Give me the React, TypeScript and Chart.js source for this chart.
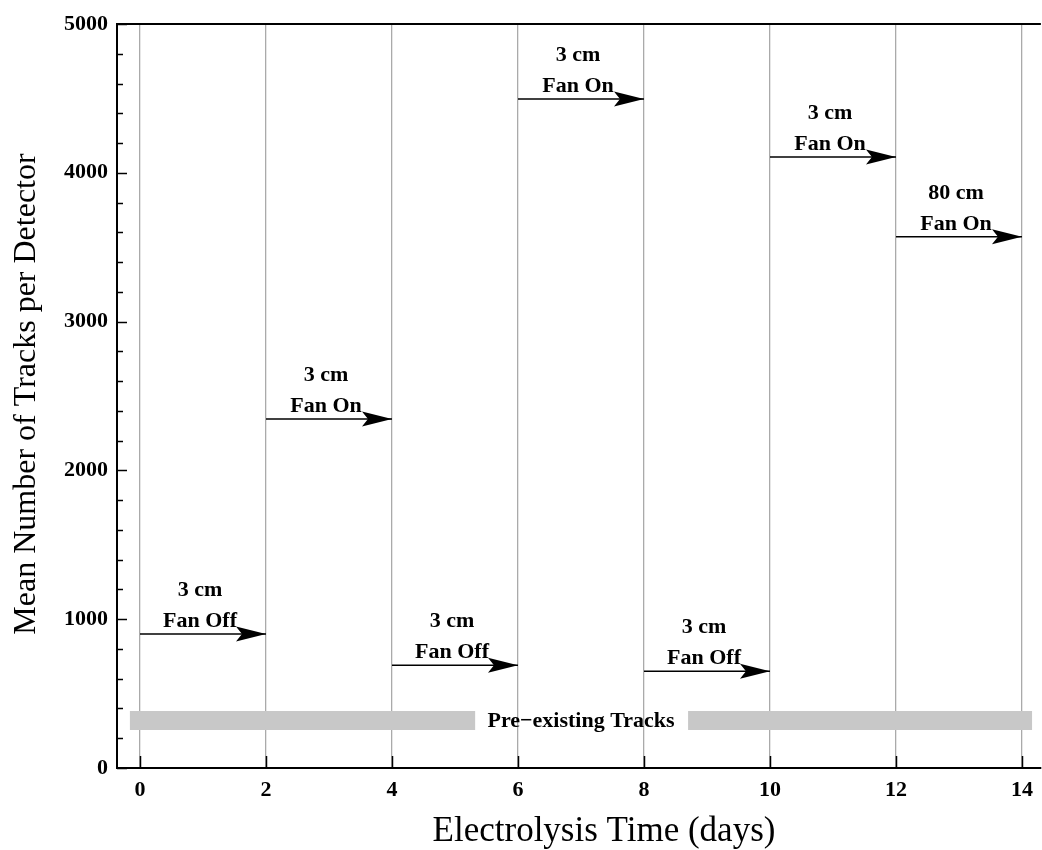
import React, { useEffect, useRef } from 'react';
import { Chart, registerables } from 'chart.js';

Chart.register(...registerables);

// ---- data ----
const xTickValues = [0, 2, 4, 6, 8, 10, 12, 14];
const arrowStart = [0, 2, 4, 6, 8, 10, 12];
const arrowEnd = [2, 4, 6, 8, 10, 12, 14];
const arrowTracks = [900, 2345, 690, 4496, 650, 4107, 3570];
const labelDistance = ['3 cm', '3 cm', '3 cm', '3 cm', '3 cm', '3 cm', '80 cm'];
const labelFan = ['Fan Off', 'Fan On', 'Fan Off', 'Fan On', 'Fan Off', 'Fan On', 'Fan On'];
const preexistingLevel = 320;
const bandStart = [-0.16, 8.7];
const bandEnd = [5.32, 14.16];
const bandLabel = 'Pre\u2212existing Tracks';
const bandLabelX = 7.0;
const xTitle = 'Electrolysis Time (days)';
const yTitle = 'Mean Number of Tracks per Detector';

const SERIF = '"Liberation Serif", "Times New Roman", serif';

export default function App() {
  const ref = useRef<HTMLCanvasElement>(null);

  useEffect(() => {
    document.body.style.margin = '0';
    const canvas = ref.current;
    if (!canvas) return;

    const datasets: any[] = [];
    bandStart.forEach((s, i) => {
      datasets.push({
        type: 'line',
        data: [
          { x: s, y: preexistingLevel },
          { x: bandEnd[i], y: preexistingLevel },
        ],
        borderColor: '#c8c8c8',
        borderWidth: 19,
        borderCapStyle: 'butt',
        pointRadius: 0,
        showLine: true,
      });
    });
    arrowStart.forEach((s, i) => {
      datasets.push({
        type: 'line',
        data: [
          { x: s, y: arrowTracks[i] },
          { x: arrowEnd[i], y: arrowTracks[i] },
        ],
        borderColor: '#000',
        borderWidth: 1.5,
        borderCapStyle: 'butt',
        pointRadius: 0,
        showLine: true,
      });
    });

    const decor = {
      id: 'decor',
      afterDatasetsDraw(chart: any) {
        const { ctx, chartArea, scales } = chart;
        const xs = scales.x;
        const ys = scales.y;
        ctx.save();
        // arrowheads + labels
        arrowStart.forEach((s, i) => {
          const x0 = xs.getPixelForValue(s);
          const x1 = xs.getPixelForValue(arrowEnd[i]);
          const y = ys.getPixelForValue(arrowTracks[i]);
          ctx.fillStyle = '#000';
          ctx.beginPath();
          ctx.moveTo(x1, y);
          ctx.lineTo(x1 - 30, y - 7.5);
          ctx.lineTo(x1 - 24, y);
          ctx.lineTo(x1 - 30, y + 7.5);
          ctx.closePath();
          ctx.fill();
          const cx = (x0 + x1) / 2 - 3;
          ctx.font = `bold 22px ${SERIF}`;
          ctx.textAlign = 'center';
          ctx.textBaseline = 'alphabetic';
          ctx.fillText(labelFan[i], cx, y - 7);
          ctx.fillText(labelDistance[i], cx, y - 38);
        });
        // band label
        ctx.font = `bold 22px ${SERIF}`;
        ctx.textAlign = 'center';
        ctx.textBaseline = 'middle';
        ctx.fillStyle = '#000';
        ctx.fillText(bandLabel, xs.getPixelForValue(bandLabelX), ys.getPixelForValue(preexistingLevel) + 1);

        // x tick marks (inside, bottom)
        ctx.strokeStyle = '#000';
        ctx.lineWidth = 1.5;
        xTickValues.forEach((v) => {
          const px = Math.round(xs.getPixelForValue(v)) + 0.5;
          ctx.beginPath();
          ctx.moveTo(px, chartArea.bottom);
          ctx.lineTo(px, chartArea.bottom - 12);
          ctx.stroke();
        });
        // y tick marks (inside, left)
        ys.ticks.forEach((t: any) => {
          const py = Math.round(ys.getPixelForValue(t.value)) + 0.5;
          const len = t.value % 1000 === 0 ? 10 : 6;
          ctx.beginPath();
          ctx.moveTo(chartArea.left, py);
          ctx.lineTo(chartArea.left + len, py);
          ctx.stroke();
        });
        // top border
        ctx.lineWidth = 2;
        ctx.beginPath();
        ctx.moveTo(chartArea.left, chartArea.top);
        ctx.lineTo(chartArea.right, chartArea.top);
        ctx.stroke();

        // axis titles
        ctx.fillStyle = '#000';
        ctx.font = `35px ${SERIF}`;
        ctx.textAlign = 'center';
        ctx.textBaseline = 'middle';
        ctx.fillText(xTitle, 604, 832);
        ctx.save();
        ctx.translate(27, 394);
        ctx.rotate(-Math.PI / 2);
        ctx.font = `32px ${SERIF}`;
        ctx.fillText(yTitle, 0, 0);
        ctx.restore();
        ctx.restore();
      },
    };

    const chart = new Chart(canvas, {
      type: 'scatter',
      data: { datasets },
      options: {
        animation: false,
        responsive: false,
        maintainAspectRatio: false,
        layout: { padding: { top: 24, right: 1, left: 0, bottom: 0 } },
        plugins: { legend: { display: false }, tooltip: { enabled: false } },
        scales: {
          x: {
            type: 'linear',
            min: -0.365,
            max: 14.3,
            afterFit: (s: any) => {
              s.height = 82;
            },
            afterBuildTicks: (s: any) => {
              s.ticks = xTickValues.map((v) => ({ value: v }));
            },
            ticks: {
              color: '#000',
              font: { family: SERIF, size: 22, weight: 'bold' },
              padding: 9,
              maxRotation: 0,
              autoSkip: false,
            },
            grid: {
              color: '#aaaaaa',
              lineWidth: 1.3,
              drawTicks: false,
            },
            border: { display: true, color: '#000', width: 2 },
          },
          y: {
            type: 'linear',
            min: 0,
            max: 5000,
            afterFit: (s: any) => {
              s.width = 117;
            },
            ticks: {
              stepSize: 200,
              color: '#000',
              font: { family: SERIF, size: 22, weight: 'bold' },
              padding: 9,
              autoSkip: false,
              callback: (v: any) => (Number(v) % 1000 === 0 ? String(v) : ''),
            },
            grid: { display: false, drawTicks: false },
            border: { display: true, color: '#000', width: 2 },
          },
        },
      },
      plugins: [decor],
    } as any);

    return () => chart.destroy();
  }, []);

  return (
    <div style={{ width: 1042, height: 850 }}>
      <canvas ref={ref} width={1042} height={850} style={{ width: 1042, height: 850, display: 'block' }} />
    </div>
  );
}
